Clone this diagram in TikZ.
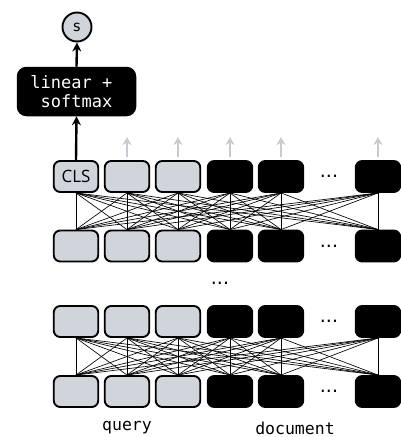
\documentclass[tikz,border=0pt]{standalone}
\usepackage{fontspec}
\setmonofont{DejaVu Sans Mono}
\setsansfont{DejaVu Sans}
\newfontfamily\clsfont{Open Sans}
\usetikzlibrary{arrows.meta}
\definecolor{qgray}{HTML}{D0D5DC}
\definecolor{arrowgray}{HTML}{C5CBD3}
\begin{document}
\begin{tikzpicture}[x=1pt,y=-1pt,
  tok/.style={draw=black, line width=1.9pt, rounded corners=6.5pt, minimum width=44.5pt, minimum height=31pt, inner sep=0pt},
  qtok/.style={tok, fill=qgray},
  dtok/.style={tok, fill=black},
  link/.style={line width=0.65pt},
  up/.style={-{Stealth[length=9pt,width=9pt]}, line width=2.4pt},
  ghost/.style={-{Stealth[length=8pt,width=9pt]}, line width=2.4pt, draw=arrowgray},
  lab/.style={font=\ttfamily\fontsize{16.5}{19}\selectfont},
  dots/.style={font=\sffamily\fontsize{19}{22}\selectfont, inner sep=0pt}]
\useasboundingbox (0,0) rectangle (401,437);
% row y positions
\def\ya{176.5}\def\yb{246}\def\yc{321.5}\def\yd{391.5}
% top row
\node[qtok, font=\clsfont\fontsize{17}{20}\selectfont] (t1) at (76,\ya) {CLS};
\foreach \i/\x in {2/127,3/178}{\node[qtok] (t\i) at (\x,\ya) {};}
\foreach \i/\x in {4/230,5/281,6/378}{\node[dtok] (t\i) at (\x,\ya) {};}
\node[dots] (tdots) at (329,\ya) {...};
% second row
\foreach \i/\x in {1/76,2/127,3/178}{\node[qtok] (b\i) at (\x,\yb) {};}
\foreach \i/\x in {4/230,5/281,6/378}{\node[dtok] (b\i) at (\x,\yb) {};}
\node[dots] (bdots) at (329,\yb) {...};
% third row
\foreach \i/\x in {1/76,2/127,3/178}{\node[qtok] (c\i) at (\x,\yc) {};}
\foreach \i/\x in {4/230,5/281,6/378}{\node[dtok] (c\i) at (\x,\yc) {};}
\node[dots] (cdots) at (329,\yc) {...};
% fourth row
\foreach \i/\x in {1/76,2/127,3/178}{\node[qtok] (d\i) at (\x,\yd) {};}
\foreach \i/\x in {4/230,5/281,6/378}{\node[dtok] (d\i) at (\x,\yd) {};}
\node[dots] (ddots) at (329,\yd) {...};
% middle dots
\node[dots] (mdots) at (220,283) {...};
% full connections
\foreach \i in {1,...,6}{\foreach \j in {1,...,6}{
  \draw[link] (t\i.south) -- (b\j.north);
  \draw[link] (c\i.south) -- (d\j.north);
}}
% head
\node[draw=black, fill=black, text=white, line width=1.5pt, rounded corners=9pt,
      minimum width=118pt, minimum height=48pt, align=center, inner sep=0pt,
      font=\ttfamily\fontsize{17}{19.5}\selectfont] (lin) at (76.5,91.5) {linear +\hphantom{x}\\softmax};
\node[circle, draw=black, fill=qgray, line width=1.9pt, minimum size=29pt, inner sep=0pt,
      font=\ttfamily\fontsize{15}{17}\selectfont] (s) at (77,27) {s};
\draw[up] (t1.north) -- (lin.south);
\draw[up] (lin.north) -- (s.south);
% grey output arrows
\foreach \i in {2,...,6}{
  \coordinate (g\i a) at ([yshift=3pt]t\i.north);
  \coordinate (g\i b) at ([yshift=23pt]t\i.north);
  \draw[ghost] (g\i a) -- (g\i b);
}
% labels
\node[lab] (q) at (127,428) {query};
\node[lab] (doc) at (295,428) {document};
\end{tikzpicture}
\end{document}
